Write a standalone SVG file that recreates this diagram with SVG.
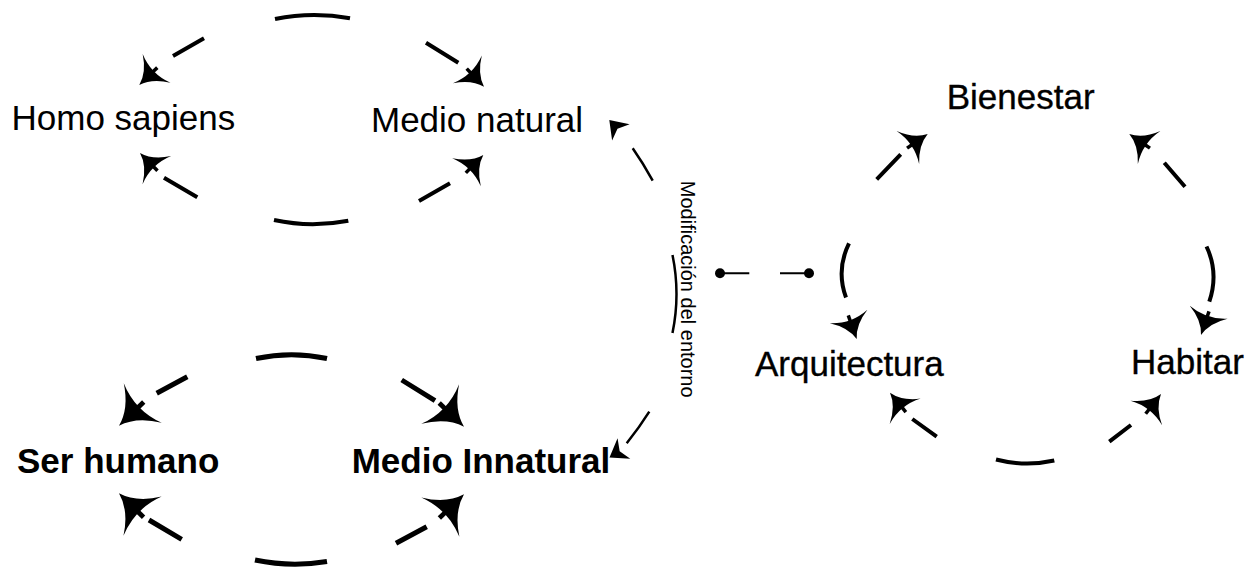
<svg xmlns="http://www.w3.org/2000/svg" xmlns:xlink="http://www.w3.org/1999/xlink" width="1252" height="568" viewBox="0 0 1252 568">
<style>
.lbl{font-family:"Liberation Sans",Arial,sans-serif;font-size:35px;fill:#000}
.b{font-weight:bold}
.hv{stroke:#000;stroke-width:0.35px}
.sm{font-family:"Liberation Sans",Arial,sans-serif;font-size:20px;fill:#000}
.e{fill:none;stroke:#000;stroke-linecap:butt}
.w4{stroke-width:4}
.w5{stroke-width:5}
.w2{stroke-width:2.5}
</style>
<defs>
<g id="sh">
<path d="M0,0 Q-14,-4 -24,-20 Q-16,0 -24,20 Q-14,4 0,0 Z" fill="#000"/>
<path d="M-19,0 L-25,0" stroke="#000" stroke-width="3.5"/>
</g>
<path id="ch" d="M0,0 L-17,-12 L-12,0 L-17,12 Z" fill="#000"/>
</defs>
<g id="connectors">
<g id="c1-top">
<path class="e w4" d="M173,56 L204,38.3 M275,19 Q312.5,11.3 350,18.3 M426,42.7 L458.3,62.7"/>
<use xlink:href="#sh" transform="translate(139.3,85) rotate(136)"/>
<use xlink:href="#sh" transform="translate(484,86.7) rotate(46.2)"/>
</g>
<g id="c1-bottom">
<path class="e w4" d="M164,177.7 L197.3,197.3 M274,220 Q311,228 348.3,220.7 M419,201 L450,183.3"/>
<use xlink:href="#sh" transform="translate(140,153) rotate(-134.5)"/>
<use xlink:href="#sh" transform="translate(483.3,155) rotate(-45.6)"/>
</g>
<g id="c2-top">
<path class="e w5" d="M156.7,393.3 L187.3,376.7 M256,358.5 Q291.5,351 327,358.5 M401.7,380 L435,400.7"/>
<use xlink:href="#sh" transform="translate(119,425.7) rotate(136.2) scale(1.37)"/>
<use xlink:href="#sh" transform="translate(464,426.7) rotate(43.6) scale(1.37)"/>
</g>
<g id="c2-bottom">
<path class="e w5" d="M149,520 L181.7,539.3 M255,560 Q291,567.5 327,561.5 M396,543.3 L426.7,526.7"/>
<use xlink:href="#sh" transform="translate(119,493.3) rotate(-135.8) scale(1.37)"/>
<use xlink:href="#sh" transform="translate(464,494.3) rotate(-44) scale(1.37)"/>
</g>
<g id="c-mod">
<path class="e w2" d="M632.7,148.3 Q643,163 652.7,180.7 M672.5,255 Q680.5,294 672.5,333 M649.3,411.7 Q639,428 626.7,443.3"/>
<use xlink:href="#ch" transform="translate(609.3,120) rotate(-133)"/>
<use xlink:href="#ch" transform="translate(609.5,457.5) rotate(148)"/>
</g>
<g id="c-link">
<path class="e" stroke-width="2" d="M720,273.3 L749.3,273.3 M780,273.3 L809,273.3"/>
<circle cx="720" cy="273.3" r="5" fill="#000"/>
<circle cx="809" cy="273.3" r="5" fill="#000"/>
</g>
<g id="c3-left">
<path class="e w4" d="M876.7,179.3 L900.7,154.3 M849,243.3 Q835.9,270 846,297.5"/>
<use xlink:href="#sh" transform="translate(927.7,134) rotate(-34.3)"/>
<use xlink:href="#sh" transform="translate(856.7,339) rotate(70.3)"/>
</g>
<g id="c3-right">
<path class="e w4" d="M1164.3,162.7 L1185,186.7 M1206.5,246.5 Q1219,273 1209.3,301.7"/>
<use xlink:href="#sh" transform="translate(1129.3,134) rotate(-145.7)"/>
<use xlink:href="#sh" transform="translate(1201,335) rotate(108.7)"/>
</g>
<g id="c3-bottom">
<path class="e w4" d="M912.3,419 L936.7,436.7 M996,459.5 Q1025,467 1054.3,460.5 M1109.3,441.7 L1131,425"/>
<use xlink:href="#sh" transform="translate(890,392.7) rotate(-129.3)"/>
<use xlink:href="#sh" transform="translate(1161,394) rotate(-52.2)"/>
</g>
</g>
<g id="n-homo"><text class="lbl" x="11.5" y="130">Homo sapiens</text></g>
<g id="n-medio-natural"><text class="lbl" x="371" y="132">Medio natural</text></g>
<g id="n-ser-humano"><text class="lbl b" x="17" y="472.7">Ser humano</text></g>
<g id="n-medio-innatural"><text class="lbl b" x="351.7" y="472.7">Medio Innatural</text></g>
<g id="n-mod-label"><text class="sm" x="681" y="289.2" text-anchor="middle" transform="rotate(90 681 289.2)">Modificación del entorno</text></g>
<g id="n-bienestar"><text class="lbl hv" x="946.7" y="109.3">Bienestar</text></g>
<g id="n-arquitectura"><text class="lbl hv" x="755" y="376">Arquitectura</text></g>
<g id="n-habitar"><text class="lbl hv" x="1131" y="374">Habitar</text></g>
</svg>
